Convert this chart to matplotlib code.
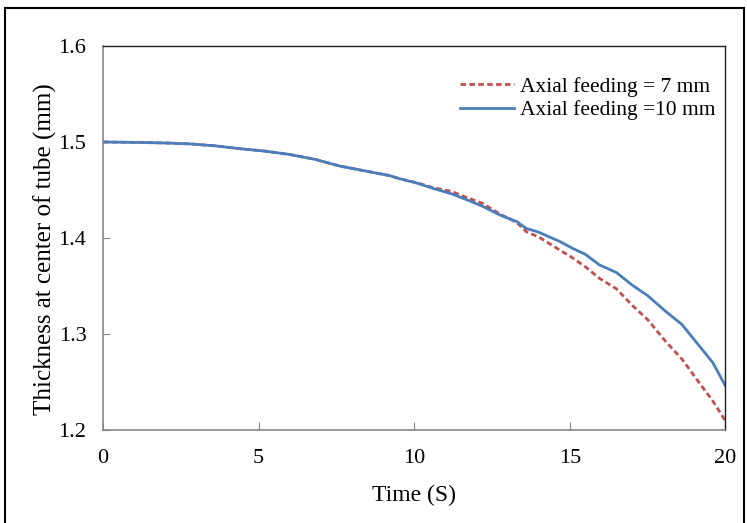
import numpy as np
import matplotlib.pyplot as plt
from matplotlib.patches import Rectangle

plt.rcParams['font.family'] = ['Liberation Serif', 'DejaVu Serif']

# Time (s) and thickness (mm)
t_10 = [0, 1.2, 2.0, 2.8, 3.6, 4.4, 5.2, 6.0, 6.8, 7.6, 8.4, 9.2, 9.55, 10.1, 10.6,
        11.2, 11.7, 12.2, 12.75, 13.3, 13.6, 14.0, 14.35, 14.7, 15.1, 15.5, 15.95,
        16.5, 17.0, 17.5, 18.1, 18.6, 19.15, 19.6, 20.0]
v_10 = [1.5, 1.4995, 1.4990, 1.4980, 1.4960, 1.4930, 1.4905, 1.4870, 1.4820, 1.4750,
        1.4700, 1.4650, 1.4616, 1.4570, 1.4517, 1.4460, 1.4397, 1.4330, 1.4240, 1.4170,
        1.4100, 1.4060, 1.4010, 1.3960, 1.3890, 1.3830, 1.3720, 1.3640, 1.3510, 1.3400,
        1.3230, 1.3100, 1.2880, 1.2700, 1.2460]

t_7 = [0, 1.2, 2.0, 2.8, 3.6, 4.4, 5.2, 6.0, 6.8, 7.6, 8.4, 9.2, 9.55, 10.1, 10.6,
       11.2, 11.7, 12.2, 12.75, 13.3, 13.6, 14.0, 14.35, 14.7, 15.1, 15.5, 15.95,
       16.5, 17.0, 17.5, 18.1, 18.6, 19.15, 19.6, 20.0]
v_7 = [1.5, 1.4995, 1.4990, 1.4980, 1.4960, 1.4930, 1.4905, 1.4870, 1.4820, 1.4750,
       1.4700, 1.4650, 1.4616, 1.4575, 1.4525, 1.4485, 1.4420, 1.4360, 1.4250, 1.4160,
       1.4066, 1.4010, 1.3940, 1.3870, 1.3790, 1.3700, 1.3580, 1.3470, 1.3300, 1.3150,
       1.2915, 1.2740, 1.2496, 1.2300, 1.2095]

fig = plt.figure(figsize=(7.47, 5.23), dpi=100)
ax = fig.add_axes([0.138, 0.178, 0.833, 0.734])

ax.plot(t_7, v_7, color='#c0504d', linestyle=(0, (2.0, 1.2)), linewidth=2.0,
        label='Axial feeding = 7 mm')
ax.plot(t_10, v_10, color='#4a7ebb', linewidth=2.0, label='Axial feeding =10 mm')

ax.set_xlim(0, 20)
ax.set_ylim(1.2, 1.6)
ax.set_xticks([0, 5, 10, 15, 20])
ax.set_yticks([1.2, 1.3, 1.4, 1.5, 1.6])
ax.set_yticklabels(['1.2', '1.3', '1.4', '1.5', '1.6'])
ax.tick_params(axis='x', direction='in', length=6, color='#868686', labelsize=16, pad=14)
ax.tick_params(axis='y', direction='in', length=5, color='#868686', labelsize=16, pad=12)

for s in ['left', 'bottom']:
    ax.spines[s].set_color('#868686')
    ax.spines[s].set_linewidth(1.2)
for s in ['top', 'right']:
    ax.spines[s].set_color('#202020')
    ax.spines[s].set_linewidth(1.0)

ax.set_xlabel('Time (S)', fontsize=17, labelpad=12)
ax.set_ylabel('Thickness at center of tube (mm)', fontsize=18)
ax.yaxis.set_label_coords(-0.074, 0.47)

ax.legend(loc='upper right', frameon=False, fontsize=15.5, handlelength=2.5,
          handletextpad=0.3, labelspacing=0.15, bbox_to_anchor=(1.016, 0.97))

fig.patches.append(Rectangle((5 / 747, -0.01), 739 / 747, 1 - 8 / 523 + 0.01,
                             transform=fig.transFigure, fill=False,
                             edgecolor='black', linewidth=1.5))

plt.savefig('out.png', dpi=100)
